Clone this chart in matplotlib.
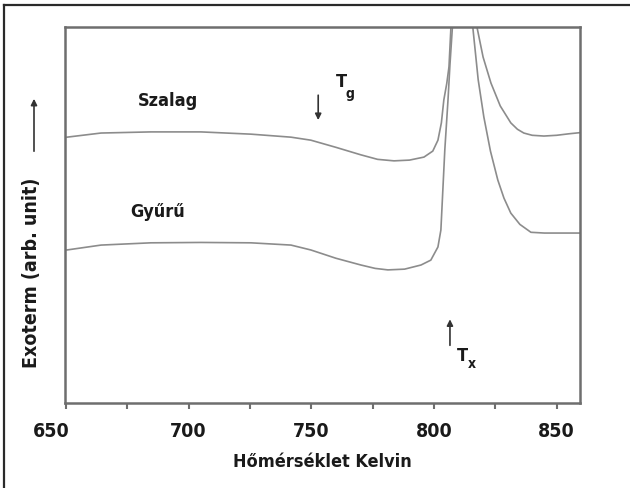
import matplotlib
matplotlib.use("Agg")
import matplotlib.pyplot as plt
from matplotlib.lines import Line2D
from matplotlib.ticker import MultipleLocator
from matplotlib.transforms import ScaledTranslation

plt.rcParams['font.family'] = ['DejaVu Sans']
plt.rcParams['font.stretch'] = 'condensed'
plt.rcParams['font.weight'] = 'bold'

# Szalag (ribbon) curve (arb. units 0-100)
szalag_T = [650.4, 664.3, 684.6, 705.0, 725.4, 741.7, 749.8, 760.0, 770.2, 777.0, 783.7,
            790.0, 795.9, 799.5, 801.6, 803.0, 804.0, 805.2, 806.1, 806.9, 808.0, 811.0,
            816.0, 817.5, 820.0, 823.2, 827.0, 831.3, 834.0, 836.6, 840.0, 844.8, 850.0,
            855.0, 859.5]
szalag_y = [70.7, 71.8, 72.1, 72.1, 71.5, 70.7, 69.9, 68.0, 66.0, 64.8, 64.4,
            64.6, 65.4, 67.0, 69.9, 74.5, 80.6, 85.0, 89.4, 100.0, 112.0, 125.0,
            112.0, 100.0, 92.0, 85.1, 79.0, 74.5, 72.8, 71.8, 71.2, 71.0, 71.2,
            71.6, 71.9]

# Gyuru (ring) curve
gyuru_T = [650.4, 664.3, 684.6, 705.0, 725.4, 741.7, 749.8, 760.0, 770.2, 776.0, 781.2,
           788.0, 794.7, 798.7, 801.6, 802.8, 804.4, 805.7, 806.5, 807.5, 810.0, 813.0,
           815.8, 818.0, 820.3, 823.0, 826.0, 828.5, 831.3, 835.0, 839.5, 845.0, 850.0,
           859.5]
gyuru_y = [40.7, 42.0, 42.6, 42.7, 42.6, 42.0, 40.7, 38.5, 36.7, 35.8, 35.4,
           35.6, 36.7, 38.0, 41.5, 46.0, 67.3, 80.6, 90.0, 100.0, 112.0, 112.0,
           100.0, 86.0, 76.1, 67.0, 59.3, 54.5, 50.5, 47.5, 45.4, 45.2, 45.2,
           45.2]

x_major = [650, 700, 750, 800, 850]

fig = plt.figure(figsize=(6.3, 4.88), dpi=100)
ax = fig.add_axes([65 / 630, 85 / 488, 515 / 630, 376 / 488])

line_col = '#8c8c8c'
ax.plot(szalag_T, szalag_y, color=line_col, lw=1.2)
ax.plot(gyuru_T, gyuru_y, color=line_col, lw=1.2)

ax.set_xlim(649.6, 859.5)
ax.set_ylim(0, 100)
ax.set_xticks(x_major)
ax.xaxis.set_minor_locator(MultipleLocator(25))
ax.set_yticks([])
for s in ax.spines.values():
    s.set_color('#6e6e6e')
    s.set_linewidth(1.8)
ax.tick_params(axis='x', which='both', direction='out', length=4, width=1.5,
               color='#6e6e6e', labelsize=14, pad=10, labelcolor='#1a1a1a')
ax.set_xlabel('Hőmérséklet Kelvin', fontsize=13, fontweight='bold', color='#1a1a1a', labelpad=8)

# the first tick label sits a bit left of its tick in the original
first = ax.get_xticklabels()[0]
first.set_transform(first.get_transform() + ScaledTranslation(-0.15, 0, fig.dpi_scale_trans))

# curve labels
ax.text(691.5, 80.3, 'Szalag', fontsize=13, fontweight='bold', color='#1a1a1a',
        ha='center', va='center')
ax.text(687.4, 50.8, 'Gyűrű', fontsize=13, fontweight='bold', color='#1a1a1a',
        ha='center', va='center')

# Tg marker
ax.annotate('', xy=(752.8, 74.5), xytext=(752.8, 82.6),
            arrowprops=dict(arrowstyle='-|>', color='#333333', lw=1.2, mutation_scale=9))
ax.text(759.8, 85.5, 'T', fontsize=13, fontweight='bold', color='#1a1a1a', ha='left', va='center')
ax.text(763.8, 82.2, 'g', fontsize=10, fontweight='bold', color='#1a1a1a', ha='left', va='center')

# Tx marker
ax.annotate('', xy=(806.5, 23.0), xytext=(806.5, 14.6),
            arrowprops=dict(arrowstyle='-|>', color='#333333', lw=1.2, mutation_scale=9))
ax.text(809.2, 12.5, 'T', fontsize=13, fontweight='bold', color='#1a1a1a', ha='left', va='center')
ax.text(813.8, 10.3, 'x', fontsize=10, fontweight='bold', color='#1a1a1a', ha='left', va='center')

# y axis label with arrow
fig.text(32 / 630, 1 - 273 / 488, 'Exoterm (arb. unit)', rotation=90, fontsize=14,
         fontweight='bold', color='#1a1a1a', ha='center', va='center')
ax.annotate('', xy=(34, 488 - 96), xytext=(34, 488 - 154), xycoords='figure pixels',
            textcoords='figure pixels',
            arrowprops=dict(arrowstyle='-|>', color='#333333', lw=1.2, mutation_scale=9))

# outer frame (only top and left edges visible)
fig.add_artist(Line2D([4 / 630, 4 / 630], [-0.1, 1 - 5 / 488], transform=fig.transFigure,
                      color='#2a2a2a', lw=1.6))
fig.add_artist(Line2D([4 / 630, 1.1], [1 - 5 / 488, 1 - 5 / 488], transform=fig.transFigure,
                      color='#2a2a2a', lw=1.6))

fig.savefig('out.png', dpi=100)
